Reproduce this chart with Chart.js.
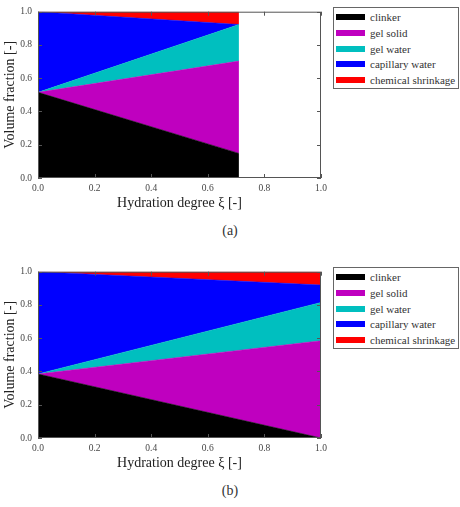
<!DOCTYPE html>
<html>
<head>
<meta charset="utf-8">
<script src="https://cdn.jsdelivr.net/npm/chart.js@4"></script>
<style>
body { margin: 0; background: #fff; width: 460px; height: 507px; position: relative; overflow: hidden; font-family: "Liberation Serif", serif; }
canvas { position: absolute; left: 0; }
.legend { position: absolute; left: 333px; width: 124px; height: 80px; border: 1px solid #666; background: #fff; }
.item { position: absolute; left: 2px; height: 14px; font-size: 11px; color: #333; line-height: 14px; white-space: nowrap; }
.item span { display: inline-block; width: 29px; height: 6px; margin-right: 5px; vertical-align: 1px; }
.cap { position: absolute; left: 0; width: 460px; text-align: center; font-size: 14px; color: #333; }
</style>
</head>
<body>
<canvas id="chartA" width="460" height="215" style="top:0"></canvas>
<canvas id="chartB" width="460" height="215" style="top:260px"></canvas>
<div class="legend" id="legendA" style="top:7px"></div>
<div class="legend" id="legendB" style="top:267px"></div>
<div class="cap" style="top:223px">(a)</div>
<div class="cap" style="top:483px">(b)</div>
<script>
const labels = ["clinker", "gel solid", "gel water", "capillary water", "chemical shrinkage"];
const colors = ["#000000", "#bf00bf", "#00bfbf", "#0000ff", "#ff0000"];
const axisTicks = [0, 0.2, 0.4, 0.6, 0.8, 1.0];

// (a) hydration stops at about 0.71
const xA = [0, 0.71];
const clinkerA = [0.515, 0.148];
const gelSolidA = [0, 0.555];
const gelWaterA = [0, 0.22];
const capWaterA = [0.485, 0.0];
const shrinkA = [0, 0.077];

// (b) full hydration
const xB = [0, 1.0];
const clinkerB = [0.385, 0];
const gelSolidB = [0, 0.585];
const gelWaterB = [0, 0.23];
const capWaterB = [0.615, 0.105];
const shrinkB = [0, 0.08];

const frameTicks = {
    id: "frameTicks",
    afterDraw(chart) {
        const { ctx, chartArea: a, scales } = chart;
        ctx.save();
        ctx.strokeStyle = "#555";
        ctx.lineWidth = 1;
        ctx.strokeRect(a.left + 0.5, a.top + 0.5, a.right - a.left - 1, a.bottom - a.top - 1);
        ctx.beginPath();
        axisTicks.forEach(v => {
            const px = Math.round(scales.x.getPixelForValue(v)) + 0.5;
            ctx.moveTo(px, a.bottom); ctx.lineTo(px, a.bottom - 4);
            ctx.moveTo(px, a.top); ctx.lineTo(px, a.top + 4);
            const py = Math.round(scales.y.getPixelForValue(v)) + 0.5;
            ctx.moveTo(a.left, py); ctx.lineTo(a.left + 4, py);
            ctx.moveTo(a.right, py); ctx.lineTo(a.right - 4, py);
        });
        ctx.stroke();
        ctx.restore();
    }
};

function makeChart(id, legendId, xs, series) {
    const datasets = series.map((vals, i) => ({
        label: labels[i],
        data: vals.map((v, j) => ({ x: xs[j], y: v })),
        backgroundColor: colors[i],
        borderColor: colors[i],
        borderWidth: 0.5,
        pointRadius: 0,
        tension: 0,
        fill: i === 0 ? "origin" : "-1"
    }));

    new Chart(document.getElementById(id), {
        type: "line",
        data: { datasets },
        options: {
            responsive: false,
            animation: false,
            layout: { padding: { left: 0, right: 139, top: 7, bottom: 0 } },
            plugins: { legend: { display: false }, tooltip: { enabled: false } },
            scales: {
                x: {
                    type: "linear",
                    min: 0, max: 1,
                    afterFit: s => { s.height = 37; },
                    grid: { display: false, drawTicks: false },
                    border: { display: false },
                    ticks: {
                        stepSize: 0.2, padding: 5, color: "#444",
                        font: { family: "Liberation Serif", size: 9.5 },
                        callback: v => v.toFixed(1)
                    },
                    title: {
                        display: true, text: "Hydration degree \u03be [-]", color: "#222",
                        font: { family: "Liberation Serif", size: 14 },
                        padding: { top: 0, bottom: 3 }
                    }
                },
                y: {
                    stacked: true,
                    min: 0, max: 1,
                    afterFit: s => { s.width = 38; },
                    grid: { display: false, drawTicks: false },
                    border: { display: false },
                    ticks: {
                        stepSize: 0.2, padding: 6, color: "#444",
                        font: { family: "Liberation Serif", size: 9.5 },
                        callback: v => v.toFixed(1)
                    },
                    title: {
                        display: true, text: "Volume fraction [-]", color: "#222",
                        font: { family: "Liberation Serif", size: 14 },
                        padding: { top: 2, bottom: 0 }
                    }
                }
            }
        },
        plugins: [frameTicks]
    });

    const box = document.getElementById(legendId);
    labels.forEach((l, i) => {
        const d = document.createElement("div");
        d.className = "item";
        d.style.top = (2 + i * 15.8) + "px";
        d.innerHTML = `<span style="background:${colors[i]}"></span>${l}`;
        box.appendChild(d);
    });
}

makeChart("chartA", "legendA", xA, [clinkerA, gelSolidA, gelWaterA, capWaterA, shrinkA]);
makeChart("chartB", "legendB", xB, [clinkerB, gelSolidB, gelWaterB, capWaterB, shrinkB]);
</script>
</body>
</html>
